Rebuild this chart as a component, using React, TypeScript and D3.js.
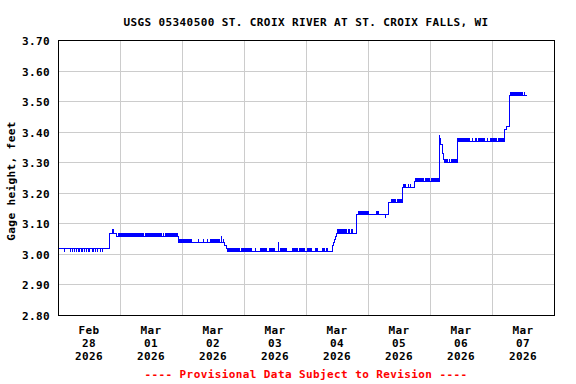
import * as React from "react";
import { scaleLinear, scaleTime, line, curveStepAfter, bisectRight } from "d3";

// x values are hours after Feb 28 2026 00:00
const stepHours = [0, 20.1, 21.1, 21.4, 22.7, 46.7, 64.6, 65.3, 65.8, 106.1, 106.5, 106.9, 107.3, 107.7, 115.7, 128.1, 133.2, 137.9, 147.5, 147.8, 148.0, 148.2, 148.7, 149.3, 149.6, 154.5, 173.0, 173.7, 174.8, 181.5];
const stepValues = [3.02, 3.07, 3.08, 3.07, 3.06, 3.04, 3.03, 3.02, 3.01, 3.03, 3.04, 3.05, 3.06, 3.07, 3.13, 3.17, 3.22, 3.24, 3.39, 3.38, 3.37, 3.36, 3.33, 3.31, 3.30, 3.37, 3.41, 3.42, 3.52, 3.52];

// short excursions away from the step level (start hour, end hour, value)
const flickStart = [2.3, 4.6, 5.4, 6.2, 7.0, 7.7, 8.1, 8.9, 9.3, 10.1, 10.8, 11.6, 12.0, 13.2, 13.5, 14.3, 15.1, 16.3, 17.0,
  23.4, 33.6, 40.6, 41.6,
  46.8, 54.2, 56.1, 57.7, 58.8, 63.0, 63.9,
  65.9, 71.0, 76.3, 78.2, 81.5, 85.3, 85.9, 90.5, 93.3, 96.3, 99.5, 102.1, 103.6,
  107.9, 112.4, 113.6,
  116.2, 120.1, 123.1, 126.6,
  128.8, 131.4,
  133.4, 135.3, 136.1,
  138.0, 142.0, 144.3,
  149.7, 151.5, 152.3,
  154.6, 160.1, 161.4, 162.7, 165.9, 167.2, 170.3,
  174.9, 180.5];
const flickEnd = [2.3, 4.6, 5.4, 6.2, 7.0, 7.7, 8.1, 8.9, 9.3, 10.1, 10.8, 11.6, 12.0, 13.2, 13.5, 14.3, 15.1, 16.3, 17.0,
  33.2, 40.2, 41.2, 46.6,
  51.9, 54.2, 56.1, 57.7, 62.7, 63.0, 63.9,
  70.5, 75.0, 76.3, 81.0, 84.0, 85.3, 88.5, 92.8, 95.6, 98.2, 100.8, 103.2, 104.6,
  111.7, 113.0, 114.3,
  120.1, 120.1, 124.4, 126.6,
  131.0, 133.0,
  134.8, 135.7, 136.6,
  141.7, 144.0, 147.4,
  151.0, 151.8, 154.3,
  159.5, 160.8, 162.1, 165.3, 166.6, 169.8, 172.9,
  180.1, 180.5];
const flickValue = [3.01, 3.01, 3.01, 3.01, 3.01, 3.01, 3.01, 3.01, 3.01, 3.01, 3.01, 3.01, 3.01, 3.01, 3.01, 3.01, 3.01, 3.01, 3.01,
  3.07, 3.07, 3.07, 3.07,
  3.05, 3.05, 3.05, 3.05, 3.05, 3.06, 3.05,
  3.02, 3.02, 3.02, 3.02, 3.02, 3.04, 3.02, 3.02, 3.02, 3.02, 3.02, 3.02, 3.02,
  3.08, 3.08, 3.08,
  3.14, 3.14, 3.14, 3.12,
  3.18, 3.18,
  3.23, 3.23, 3.23,
  3.25, 3.25, 3.25,
  3.31, 3.31, 3.31,
  3.38, 3.38, 3.38, 3.38, 3.38, 3.38, 3.38,
  3.53, 3.53];

const yTicks = [2.8, 2.9, 3.0, 3.1, 3.2, 3.3, 3.4, 3.5, 3.6, 3.7];
const dayMonths = ["Feb", "Mar", "Mar", "Mar", "Mar", "Mar", "Mar", "Mar"];
const dayNumbers = ["28", "01", "02", "03", "04", "05", "06", "07"];
const dayYears = ["2026", "2026", "2026", "2026", "2026", "2026", "2026", "2026"];

const title = "USGS 05340500 ST. CROIX RIVER AT ST. CROIX FALLS, WI";
const yTitle = "Gage height, feet";
const footer = "---- Provisional Data Subject to Revision ----";

const t0 = new Date(2026, 1, 28);
const hourToDate = (h: number) => new Date(t0.getTime() + h * 3600e3);

const App: React.FC = () => {
  const width = 576, height = 384;
  const left = 58, right = 554, top = 40, bottom = 315;
  const font = { fontFamily: "DejaVu Sans Mono", fontWeight: "bold" as const, fontSize: 11, letterSpacing: 0.4 };

  const x = scaleTime().domain([t0, hourToDate(192)]).range([left, right]);
  const y = scaleLinear().domain([2.8, 3.7]).range([bottom, top]);

  const pts: [number, number][] = stepHours.map((h, i) => [h, stepValues[i]]);
  const path = line<[number, number]>()
    .x(d => x(hourToDate(d[0])))
    .y(d => Math.round(y(d[1])) + 0.5)
    .curve(curveStepAfter)(pts) || "";

  const days = dayNumbers.map((_, i) => i);

  return (
    <svg width={width} height={height} style={{ position: "absolute", left: 0, top: 0, background: "#fff" }}>
      <rect x={0} y={0} width={width} height={height} fill="#fff" />
      <text x={(left + right) / 2} y={26} textAnchor="middle" {...font}>{title}</text>

      {/* grid */}
      <g stroke="#cccccc" strokeWidth={1} shapeRendering="crispEdges">
        {yTicks.slice(1, -1).map(v => (
          <line key={v} x1={left} x2={right} y1={Math.round(y(v)) + 0.5} y2={Math.round(y(v)) + 0.5} />
        ))}
        {days.slice(1).map(i => {
          const xx = Math.round(x(hourToDate(i * 24))) + 0.5;
          return <line key={i} x1={xx} x2={xx} y1={top} y2={bottom} />;
        })}
      </g>

      {/* data */}
      <g fill="#0000ff" shapeRendering="crispEdges">
        {flickStart.map((s, i) => {
          const base = stepValues[bisectRight(stepHours, s) - 1];
          const x1 = Math.round(x(hourToDate(s)));
          const x2 = Math.round(x(hourToDate(flickEnd[i])));
          const ya = Math.round(y(base));
          const yb = Math.round(y(flickValue[i]));
          return <rect key={i} x={x1} width={Math.max(1, x2 - x1)} y={Math.min(ya, yb)} height={Math.abs(ya - yb) + 1} />;
        })}
      </g>
      <path d={path} fill="none" stroke="#0000ff" strokeWidth={1} shapeRendering="crispEdges" />

      {/* frame */}
      <rect x={left + 0.5} y={top + 0.5} width={right - left} height={bottom - top} fill="none" stroke="#000" strokeWidth={1} shapeRendering="crispEdges" />

      {/* y axis */}
      {yTicks.map(v => (
        <text key={v} x={50} y={y(v) + 5} textAnchor="end" {...font}>{v.toFixed(2)}</text>
      ))}
      <text transform={`translate(15,181) rotate(-90)`} textAnchor="middle" {...font}>{yTitle}</text>

      {/* x axis */}
      {days.map(i => {
        const cx = x(hourToDate(i * 24 + 12));
        return (
          <g key={i} {...font} textAnchor="middle">
            <text x={cx} y={334}>{dayMonths[i]}</text>
            <text x={cx} y={347}>{dayNumbers[i]}</text>
            <text x={cx} y={360}>{dayYears[i]}</text>
          </g>
        );
      })}

      <text x={(left + right) / 2} y={378} textAnchor="middle" {...font} fill="#ff0000">{footer}</text>
    </svg>
  );
};

export default App;
